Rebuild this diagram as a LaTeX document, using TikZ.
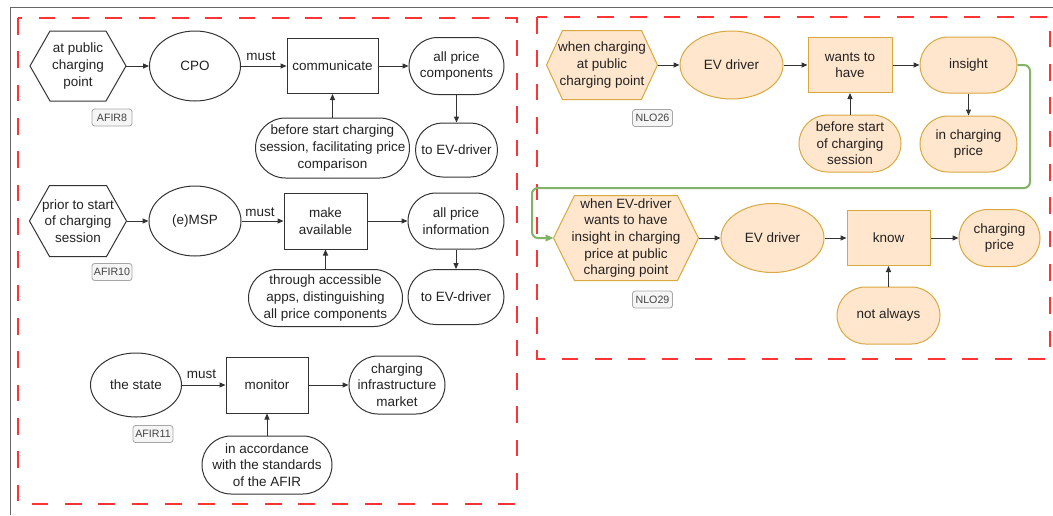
\documentclass[tikz,border=0pt]{standalone}
\usepackage{fontspec}
\setmainfont{Liberation Sans}
\usetikzlibrary{shapes.geometric,arrows.meta,calc,backgrounds}
\definecolor{ink}{HTML}{222222}
\definecolor{edge}{HTML}{333333}
\definecolor{ofill}{HTML}{FFE6CC}
\definecolor{oline}{HTML}{D9A83F}
\definecolor{gline}{HTML}{82B366}
\definecolor{rline}{HTML}{FF3333}
\definecolor{tagfill}{HTML}{F5F5F5}
\definecolor{tagline}{HTML}{A6A6A6}
\definecolor{framec}{HTML}{666666}
\tikzset{
 base/.style={font=\fontsize{10.1pt}{12.4pt}\selectfont, text=ink, align=center, inner sep=0pt, line width=0.75pt},
 sz/.style 2 args={minimum width=#1*0.75pt, minimum height=#2*0.75pt},
 ell/.style 2 args={base, ellipse, draw=edge, sz={#1}{#2}},
 box/.style 2 args={base, rectangle, draw=edge, sz={#1}{#2}},
 pill/.style 2 args={base, rectangle, draw=edge, sz={#1}{#2}, rounded corners=#2*0.375pt},
 hexn/.style 2 args={base, rectangle, sz={#1}{#2}},
 orange/.style={fill=ofill, draw=oline},
 hexline/.style={draw=edge, line width=0.75pt},
 hexorange/.style={fill=ofill, draw=oline, line width=0.75pt},
 tag/.style={rectangle, rounded corners=2pt, draw=tagline, fill=tagfill, text=ink!85, font=\fontsize{8pt}{9pt}\selectfont, minimum width=30pt, minimum height=12.75pt, inner sep=0pt, line width=0.6pt},
 conn/.style={draw=edge, line width=0.75pt, -{Triangle[length=4.5pt,width=3.8pt]}},
 group/.style={draw=rline, line width=1.5pt, dash pattern=on 12.5pt off 12.5pt},
 lbl/.style={font=\fontsize{10.1pt}{12pt}\selectfont, text=ink, inner sep=0pt},
 greenconn/.style={draw=gline, line width=1.5pt, rounded corners=4.5pt, -{Triangle[length=6pt,width=5pt]}},
}
\newcommand\hexshape[3]{%
 \begin{pgfonlayer}{background}
 \path[#3] (#1.west) -- ($(#1.north west)+(#2,0)$) -- ($(#1.north east)+(-#2,0)$) -- (#1.east) -- ($(#1.south east)+(-#2,0)$) -- ($(#1.south west)+(#2,0)$) -- cycle;
 \end{pgfonlayer}}
\begin{document}
\begin{tikzpicture}[x=0.75pt,y=-0.75pt]
\useasboundingbox (0,0) rectangle (1053,515);
\draw[framec, line width=0.75pt] (10,515) -- (10,7) -- (1053,7);
\draw[group] (17.5,18) rectangle (517,504);
\draw[group] (537,17) rectangle (1050,359);

% ---- left row 1
\node[hexn={95}{69}] (h1) at (78,66) {at public\\charging\\point};
\hexshape{h1}{20}{hexline}
\node[tag] (t1) at (112,117.5) {AFIR8};
\node[ell={91}{70}] (cpo) at (195,66) {CPO};
\node[box={91}{55}] (comm) at (332.5,66) {communicate};
\node[pill={95}{57}] (apc) at (456.5,66) {all price\\components};
\node[pill={154}{60}] (bsc) at (332.5,148) {before start charging\\session, facilitating price\\comparison};
\node[pill={82}{54}] (ev1) at (456.5,150) {to EV-driver};
\node[lbl] (m1) at (261,56) {must};
\draw[conn] (h1.east) -- (cpo.west);
\draw[conn] (cpo.east) -- (comm.west);
\draw[conn] (comm.east) -- (apc.west);
\draw[conn] (apc.south) -- (ev1.north);
\draw[conn] (bsc.north) -- (comm.south);

% ---- left row 2
\node[hexn={96}{70}] (h2) at (78,221) {prior to start\\of charging\\session};
\hexshape{h2}{20}{hexline}
\node[tag] (t2) at (112,272) {AFIR10};
\node[ell={92}{70}] (emsp) at (195,221) {(e)MSP};
\node[box={83}{56}] (make) at (325.5,221) {make\\available};
\node[pill={96}{56}] (api) at (456,221) {all price\\information};
\node[pill={96}{55}] (ev2) at (456,297) {to EV-driver};
\node[pill={154}{57}] (thr) at (325.5,298) {through accessible\\apps, distinguishing\\all price components};
\node[lbl] (m2) at (260,212) {must};
\draw[conn] (h2.east) -- (emsp.west);
\draw[conn] (emsp.east) -- (make.west);
\draw[conn] (make.east) -- (api.west);
\draw[conn] (api.south) -- (ev2.north);
\draw[conn] (thr.north) -- (make.south);

% ---- left row 3
\node[ell={91}{64}] (state) at (136,385) {the state};
\node[tag] (t3) at (153,434) {AFIR11};
\node[box={82}{56}] (mon) at (267,385) {monitor};
\node[pill={96}{58}] (cim) at (397,385) {charging\\infrastructure\\market};
\node[pill={130}{58}] (acc) at (267,465) {in accordance\\with the standards\\of the AFIR};
\node[lbl] (m3) at (201.5,374) {must};
\draw[conn] (state.east) -- (mon.west);
\draw[conn] (mon.east) -- (cim.west);
\draw[conn] (acc.north) -- (mon.south);

% ---- right row 1
\node[hexn={110}{68}] (h3) at (602,65) {when charging\\at public\\charging point};
\hexshape{h3}{16}{hexorange}
\node[tag] (t4) at (652.5,118) {NLO26};
\node[ell={103}{68}, orange] (evd1) at (731.5,65) {EV driver};
\node[box={84}{55}, orange] (want) at (850,65) {wants to\\have};
\node[pill={97}{56}, orange] (ins) at (968.5,65) {insight};
\node[pill={97}{56}, orange] (icp) at (968.5,144) {in charging\\price};
\node[pill={102}{57}, orange] (bss) at (850,143.5) {before start\\of charging\\session};
\draw[conn] (h3.east) -- (evd1.west);
\draw[conn] (evd1.east) -- (want.west);
\draw[conn] (want.east) -- (ins.west);
\draw[conn] (ins.south) -- (icp.north);
\draw[conn] (bss.north) -- (want.south);

% ---- right row 2
\node[hexn={144}{84}] (h4) at (626,238) {when EV-driver\\wants to have\\insight in charging\\price at public\\charging point};
\hexshape{h4}{21}{hexorange}
\node[tag] (t5) at (652.5,299.5) {NLO29};
\node[ell={103}{69}, orange] (evd2) at (772.5,238) {EV driver};
\node[box={83}{55}, orange] (know) at (888.5,238) {know};
\node[pill={81}{57}, orange] (cp) at (999.5,238) {charging\\price};
\node[pill={103}{57}, orange] (na) at (888.5,315.5) {not always};
\draw[conn] (h4.east) -- (evd2.west);
\draw[conn] (evd2.east) -- (know.west);
\draw[conn] (know.east) -- (cp.west);
\draw[conn] (na.north) -- (know.south);

% ---- green link
\coordinate (g1) at (1030,188);
\coordinate (g2) at (532,188);
\draw[greenconn] (ins.east) -| (g1) -- (g2) |- (h4.west);
\end{tikzpicture}
\end{document}
